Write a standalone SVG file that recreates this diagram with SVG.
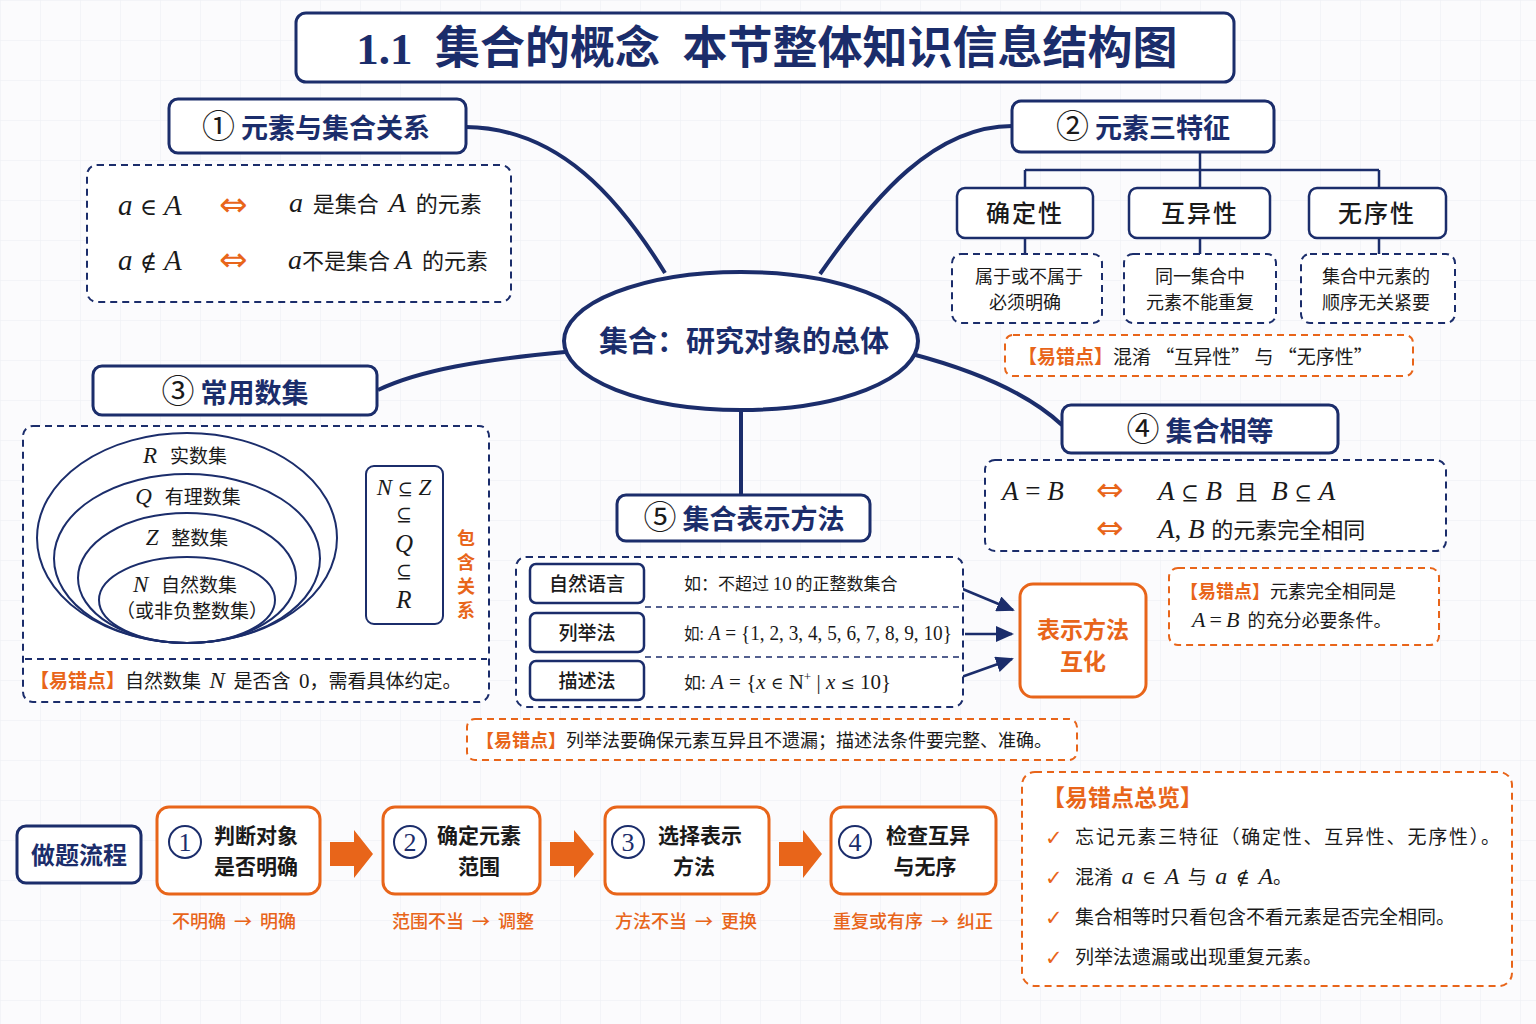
<svg xmlns="http://www.w3.org/2000/svg" width="1536" height="1024" viewBox="0 0 1536 1024">
<defs>
<pattern id="grid" width="40" height="40" patternUnits="userSpaceOnUse">
<path d="M40 0H0V40" fill="none" stroke="#eceef4" stroke-width="1"/>
</pattern>
<marker id="ah" markerWidth="10" markerHeight="10" refX="8" refY="5" orient="auto" markerUnits="userSpaceOnUse">
<path d="M0,0 L10,5 L0,10 Z" fill="#1b2d6b"/>
</marker>
<marker id="ahs" markerWidth="18" markerHeight="16" refX="16" refY="8" orient="auto" markerUnits="userSpaceOnUse">
<path d="M0,0 L18,8 L0,16 Z" fill="#1b2d6b"/>
</marker>
<marker id="aho" markerWidth="14" markerHeight="14" refX="7" refY="7" orient="auto" markerUnits="userSpaceOnUse">
<path d="M0,0 L14,7 L0,14 Z" fill="#e8651a"/>
</marker>
<style>
.nbox{fill:#fff;stroke:#1b2d6b;stroke-width:3}
.sbox{fill:#fff;stroke:#1b2d6b;stroke-width:2.5}
.dbox{fill:#fff;stroke:#1b2d6b;stroke-width:2;stroke-dasharray:7 5}
.obox{fill:#fff;stroke:#e8651a;stroke-width:2;stroke-dasharray:7 5}
.osolid{fill:#fff;stroke:#e8651a;stroke-width:3}
.conn{fill:none;stroke:#1b2d6b;stroke-width:4}
.thin{fill:none;stroke:#1b2d6b;stroke-width:2.5}
.ell{fill:none;stroke:#1b2d6b;stroke-width:2}
.h{font-family:"Noto Sans CJK SC","Noto Sans",sans-serif;font-weight:700;fill:#1b2d6b}
.t{font-family:"Liberation Serif","DejaVu Serif","Noto Sans CJK SC",serif;fill:#1a1a1a}
.cn{font-family:"Noto Sans CJK SC",sans-serif;fill:#1a1a1a}
.cnb{font-family:"Noto Sans CJK SC",sans-serif;font-weight:700;fill:#1a1a1a}
.o{fill:#e8651a}
.ob{font-family:"Noto Sans CJK SC",sans-serif;font-weight:700;fill:#e8651a}
.i{font-style:italic;font-family:"Liberation Serif",serif}
.sy{font-family:"DejaVu Serif",serif;font-style:normal}
.dq{font-family:"DejaVu Sans",sans-serif;fill:#e8651a}
.cnum{font-size:33px;font-weight:400}
</style>
</defs>
<rect width="1536" height="1024" fill="#fbfbfd"/>
<rect width="1536" height="1024" fill="url(#grid)"/>

<g id="connectors">
<path class="conn" d="M665,273 C620,200 560,128 466,127"/>
<path class="conn" d="M820,274 C875,195 935,126 1012,126"/>
<path class="conn" d="M565,352 C480,360 420,370 378,390"/>
<path class="conn" d="M912,354 C980,372 1030,395 1062,425"/>
<path class="conn" d="M741,411 V495"/>
<path class="thin" d="M1200,152 V170 M1025,170 H1379 M1025,170 V188 M1200,170 V188 M1379,170 V188"/>
<path class="thin" d="M1025,238 V254 M1200,238 V254 M1379,238 V254"/>
<path fill="none" stroke="#1b2d6b" stroke-width="2.5" marker-end="url(#ah)" d="M652,584 H680"/>
<path fill="none" stroke="#1b2d6b" stroke-width="2.5" marker-end="url(#ah)" d="M652,633 H680"/>
<path fill="none" stroke="#1b2d6b" stroke-width="2.5" marker-end="url(#ah)" d="M652,681 H680"/>
<path fill="none" stroke="#1b2d6b" stroke-width="2.5" marker-end="url(#ahs)" d="M953,585 L1013,610"/>
<path fill="none" stroke="#1b2d6b" stroke-width="2.5" marker-end="url(#ahs)" d="M965,634 H1012"/>
<path fill="none" stroke="#1b2d6b" stroke-width="2.5" marker-end="url(#ahs)" d="M953,680 L1012,659"/>
<path fill="none" stroke="#e8651a" stroke-width="2.5" marker-end="url(#aho)" d="M466,520 V473"/>
</g>

<g id="title">
<rect x="296" y="13" width="938" height="69" rx="10" class="nbox"/>
<text x="767" y="64" text-anchor="middle" font-family="Liberation Serif,'Noto Sans CJK SC',serif" font-weight="700" font-size="45" fill="#1b2d6b" xml:space="preserve">1.1  集合的概念  本节整体知识信息结构图</text>
</g>

<g id="center">
<ellipse cx="741" cy="341" rx="177" ry="69" fill="#fff" stroke="#1b2d6b" stroke-width="4"/>
<text x="744" y="352" text-anchor="middle" class="h" font-size="29">集合：研究对象的总体</text>
</g>

<g id="node1">
<rect x="169" y="99" width="297" height="54" rx="9" class="nbox"/>
<text x="316" y="138" text-anchor="middle" class="h" font-size="27" xml:space="preserve"><tspan class="cnum" fill="#1a1a1a">①</tspan> 元素与集合关系</text>
</g>
<g id="box1">
<rect x="87" y="165" width="424" height="137" rx="10" class="dbox"/>
<text x="118" y="215" class="t" font-size="29" xml:space="preserve"><tspan class="i">a</tspan> <tspan class="sy" font-size="23">∈</tspan> <tspan class="i">A</tspan></text>
<text x="219" y="216" class="dq" font-size="34">⇔</text>
<text x="289" y="212" class="cn" font-size="22" xml:space="preserve"><tspan class="i" font-size="28">a</tspan>  是集合  <tspan class="i" font-size="28">A</tspan>  的元素</text>
<text x="118" y="270" class="t" font-size="29" xml:space="preserve"><tspan class="i">a</tspan> <tspan class="sy" font-size="23">∉</tspan> <tspan class="i">A</tspan></text>
<text x="219" y="271" class="dq" font-size="34">⇔</text>
<text x="288" y="269" class="cn" font-size="22" xml:space="preserve"><tspan class="i" font-size="28">a</tspan>不是集合 <tspan class="i" font-size="28">A</tspan>  的元素</text>
</g>

<g id="node2">
<rect x="1012" y="101" width="262" height="51" rx="9" class="nbox"/>
<text x="1143" y="138" text-anchor="middle" class="h" font-size="27" xml:space="preserve"><tspan class="cnum" fill="#1a1a1a">②</tspan> 元素三特征</text>
</g>
<g id="feat1">
<rect x="957" y="188" width="136" height="50" rx="8" class="sbox"/>
<text x="1025" y="222" text-anchor="middle" class="cn" font-size="24" font-weight="500" letter-spacing="2">确定性</text>
<rect x="952" y="254" width="150" height="69" rx="9" class="dbox"/>
<text x="1029" y="283" text-anchor="middle" class="cn" font-size="18">属于或不属于</text>
<text x="1025" y="309" text-anchor="middle" class="cn" font-size="18">必须明确</text>
</g>
<g id="feat2">
<rect x="1129" y="188" width="141" height="50" rx="8" class="sbox"/>
<text x="1200" y="222" text-anchor="middle" class="cn" font-size="24" font-weight="500" letter-spacing="2">互异性</text>
<rect x="1124" y="254" width="152" height="69" rx="9" class="dbox"/>
<text x="1200" y="283" text-anchor="middle" class="cn" font-size="18">同一集合中</text>
<text x="1200" y="309" text-anchor="middle" class="cn" font-size="18">元素不能重复</text>
</g>
<g id="feat3">
<rect x="1309" y="188" width="137" height="50" rx="8" class="sbox"/>
<text x="1377" y="222" text-anchor="middle" class="cn" font-size="24" font-weight="500" letter-spacing="2">无序性</text>
<rect x="1301" y="254" width="154" height="69" rx="9" class="dbox"/>
<text x="1376" y="283" text-anchor="middle" class="cn" font-size="18">集合中元素的</text>
<text x="1376" y="309" text-anchor="middle" class="cn" font-size="18">顺序无关紧要</text>
</g>
<g id="err2">
<rect x="1005" y="335" width="408" height="41" rx="8" class="obox"/>
<text x="1018" y="364" class="cn" font-size="19"><tspan class="ob" font-weight="500">【易错点】</tspan>混淆 “互异性” 与 “无序性”</text>
</g>

<g id="node3">
<rect x="93" y="366" width="284" height="49" rx="9" class="nbox"/>
<text x="235" y="403" text-anchor="middle" class="h" font-size="27" xml:space="preserve"><tspan class="cnum" fill="#1a1a1a">③</tspan> 常用数集</text>
</g>
<g id="box3">
<rect x="23" y="426" width="466" height="276" rx="10" class="dbox"/>
<path d="M25,659 H487" stroke="#1b2d6b" stroke-width="2" stroke-dasharray="7 5"/>
<ellipse class="ell" cx="187" cy="538" rx="150" ry="105"/>
<ellipse class="ell" cx="187" cy="558.5" rx="133" ry="84.5"/>
<ellipse class="ell" cx="187" cy="578" rx="109" ry="65"/>
<ellipse class="ell" cx="187" cy="600" rx="88" ry="43"/>
<text x="185" y="463" text-anchor="middle" class="cn" font-size="19" xml:space="preserve"><tspan class="i" font-size="23">R</tspan>   实数集</text>
<text x="188" y="504" text-anchor="middle" class="cn" font-size="19" xml:space="preserve"><tspan class="i" font-size="23">Q</tspan>   有理数集</text>
<text x="187" y="545" text-anchor="middle" class="cn" font-size="19" xml:space="preserve"><tspan class="i" font-size="23">Z</tspan>   整数集</text>
<text x="185" y="592" text-anchor="middle" class="cn" font-size="19" xml:space="preserve"><tspan class="i" font-size="23">N</tspan>   自然数集</text>
<text x="192" y="618" text-anchor="middle" class="cn" font-size="19">（或非负整数集）</text>
<rect x="366" y="466" width="77" height="158" rx="8" fill="#fff" stroke="#1b2d6b" stroke-width="2"/>
<text x="404" y="495" text-anchor="middle" class="t" font-size="23" xml:space="preserve"><tspan class="i">N</tspan> <tspan class="sy" font-size="18">⊆</tspan> <tspan class="i">Z</tspan></text>
<text x="404" y="521" text-anchor="middle" class="sy" font-size="19" fill="#1a1a1a">⊆</text>
<text x="404" y="552" text-anchor="middle" class="t i" font-size="25">Q</text>
<text x="404" y="578" text-anchor="middle" class="sy" font-size="19" fill="#1a1a1a">⊆</text>
<text x="404" y="608" text-anchor="middle" class="t i" font-size="25">R</text>
<text class="ob" font-size="18" font-weight="500" text-anchor="middle"><tspan x="466" y="545">包</tspan><tspan x="466" y="569">含</tspan><tspan x="466" y="593">关</tspan><tspan x="466" y="617">系</tspan></text>
<text x="30" y="688" class="cn" font-size="19" xml:space="preserve"><tspan class="ob" font-weight="500">【易错点】</tspan>自然数集  <tspan class="i" font-size="23">N</tspan>  是否含  <tspan font-family="Liberation Serif" font-size="21">0</tspan>，需看具体约定。</text>
</g>

<g id="node4">
<rect x="1062" y="405" width="276" height="48" rx="9" class="nbox"/>
<text x="1200" y="441" text-anchor="middle" class="h" font-size="27" xml:space="preserve"><tspan class="cnum" fill="#1a1a1a">④</tspan> 集合相等</text>
</g>
<g id="box4">
<rect x="985" y="460" width="461" height="91" rx="10" class="dbox"/>
<text x="1002" y="500" class="t" font-size="27" xml:space="preserve"><tspan class="i">A</tspan> = <tspan class="i">B</tspan></text>
<text x="1096" y="501" class="dq" font-size="33">⇔</text>
<text x="1158" y="500" class="t" font-size="27" xml:space="preserve"><tspan class="i">A</tspan> <tspan class="sy" font-size="21">⊆</tspan> <tspan class="i">B</tspan>  <tspan font-family="Noto Sans CJK SC" font-size="22">且</tspan>  <tspan class="i">B</tspan> <tspan class="sy" font-size="21">⊆</tspan> <tspan class="i">A</tspan></text>
<text x="1096" y="539" class="dq" font-size="33">⇔</text>
<text x="1158" y="538" class="t" font-size="27" xml:space="preserve"><tspan class="i">A</tspan>, <tspan class="i">B</tspan> <tspan font-family="Noto Sans CJK SC" font-size="22">的元素完全相同</tspan></text>
</g>
<g id="err4">
<rect x="1169" y="568" width="270" height="77" rx="9" class="obox"/>
<text x="1180" y="598" class="cn" font-size="18"><tspan class="ob" font-weight="500">【易错点】</tspan>元素完全相同是</text>
<text x="1192" y="627" class="cn" font-size="18" xml:space="preserve"><tspan class="i" font-size="22">A</tspan> <tspan font-family="Liberation Serif" font-size="22">=</tspan> <tspan class="i" font-size="22">B</tspan>  的充分必要条件。</text>
</g>

<g id="node5">
<rect x="617" y="495" width="253" height="46" rx="9" class="nbox"/>
<text x="744" y="529" text-anchor="middle" class="h" font-size="27" xml:space="preserve"><tspan class="cnum" fill="#1a1a1a">⑤</tspan> 集合表示方法</text>
</g>
<g id="box5">
<rect x="516" y="557" width="447" height="150" rx="10" class="dbox"/>
<path d="M645,607 H963 M645,657 H963" stroke="#1b2d6b" stroke-width="1.5" stroke-dasharray="6 5"/>
<rect x="530" y="564" width="114" height="39" rx="6" class="sbox" stroke-width="2"/>
<text x="587" y="591" text-anchor="middle" class="cn" font-size="19" font-weight="500">自然语言</text>
<rect x="530" y="613" width="114" height="39" rx="6" class="sbox" stroke-width="2"/>
<text x="587" y="640" text-anchor="middle" class="cn" font-size="19" font-weight="500">列举法</text>
<rect x="530" y="661" width="114" height="39" rx="6" class="sbox" stroke-width="2"/>
<text x="587" y="688" text-anchor="middle" class="cn" font-size="19" font-weight="500">描述法</text>
<text x="684" y="590" class="cn" font-size="17">如：不超过 <tspan font-family="Liberation Serif" font-size="19">10</tspan> 的正整数集合</text>
<text x="684" y="640" class="t" font-size="21" textLength="268" lengthAdjust="spacingAndGlyphs"><tspan font-family="Noto Sans CJK SC" font-size="17">如:</tspan> <tspan class="i">A</tspan> = {1, 2, 3, 4, 5, 6, 7, 8, 9, 10}</text>
<text x="684" y="689" class="t" font-size="21" xml:space="preserve"><tspan font-family="Noto Sans CJK SC" font-size="17">如:</tspan> <tspan class="i">A</tspan> = {<tspan class="i">x</tspan> <tspan class="sy" font-size="17">∈</tspan> N<tspan font-size="13" dy="-8">+</tspan><tspan dy="8"> | </tspan><tspan class="i">x</tspan> <tspan class="sy" font-size="17">≤</tspan> 10}</text>
</g>
<g id="convert">
<rect x="1020" y="584" width="126" height="113" rx="13" class="osolid"/>
<text x="1083" y="638" text-anchor="middle" class="ob" font-size="23">表示方法</text>
<text x="1083" y="670" text-anchor="middle" class="ob" font-size="23">互化</text>
</g>
<g id="err5">
<rect x="467" y="719" width="610" height="41" rx="8" class="obox"/>
<text x="476" y="747" class="cn" font-size="18"><tspan class="ob" font-weight="500">【易错点】</tspan>列举法要确保元素互异且不遗漏；描述法条件要完整、准确。</text>
</g>

<g id="flow-label">
<rect x="17" y="826" width="124" height="57" rx="9" class="nbox"/>
<text x="79" y="864" text-anchor="middle" class="h" font-size="24">做题流程</text>
</g>
<g id="step1">
<rect x="157" y="807" width="163" height="87" rx="12" class="osolid"/>
<circle cx="185" cy="842" r="16" fill="#fff" stroke="#1b2d6b" stroke-width="2"/>
<text x="185" y="851" text-anchor="middle" font-family="Liberation Serif,serif" font-size="26" fill="#1b2d6b">1</text>
<text x="256" y="843" text-anchor="middle" class="cnb" font-size="21">判断对象</text>
<text x="256" y="874" text-anchor="middle" class="cnb" font-size="21">是否明确</text>
<text x="234" y="928" text-anchor="middle" class="cn o" font-size="18" font-weight="500" xml:space="preserve">不明确  →  明确</text>
</g>
<g id="step2">
<rect x="383" y="807" width="157" height="87" rx="12" class="osolid"/>
<circle cx="410" cy="842" r="16" fill="#fff" stroke="#1b2d6b" stroke-width="2"/>
<text x="410" y="851" text-anchor="middle" font-family="Liberation Serif,serif" font-size="26" fill="#1b2d6b">2</text>
<text x="479" y="843" text-anchor="middle" class="cnb" font-size="21">确定元素</text>
<text x="479" y="874" text-anchor="middle" class="cnb" font-size="21">范围</text>
<text x="463" y="928" text-anchor="middle" class="cn o" font-size="18" font-weight="500" xml:space="preserve">范围不当  →  调整</text>
</g>
<g id="step3">
<rect x="605" y="807" width="164" height="87" rx="12" class="osolid"/>
<circle cx="628" cy="842" r="16" fill="#fff" stroke="#1b2d6b" stroke-width="2"/>
<text x="628" y="851" text-anchor="middle" font-family="Liberation Serif,serif" font-size="26" fill="#1b2d6b">3</text>
<text x="700" y="843" text-anchor="middle" class="cnb" font-size="21">选择表示</text>
<text x="694" y="874" text-anchor="middle" class="cnb" font-size="21">方法</text>
<text x="686" y="928" text-anchor="middle" class="cn o" font-size="18" font-weight="500" xml:space="preserve">方法不当  →  更换</text>
</g>
<g id="step4">
<rect x="831" y="807" width="165" height="87" rx="12" class="osolid"/>
<circle cx="855" cy="842" r="16" fill="#fff" stroke="#1b2d6b" stroke-width="2"/>
<text x="855" y="851" text-anchor="middle" font-family="Liberation Serif,serif" font-size="26" fill="#1b2d6b">4</text>
<text x="928" y="843" text-anchor="middle" class="cnb" font-size="21">检查互异</text>
<text x="925" y="874" text-anchor="middle" class="cnb" font-size="21">与无序</text>
<text x="913" y="928" text-anchor="middle" class="cn o" font-size="18" font-weight="500" xml:space="preserve">重复或有序  →  纠正</text>
</g>
<g id="flow-arrows" fill="#e8651a">
<polygon points="330,842 354,842 354,830 373,854 354,878 354,866 330,866"/>
<polygon points="550,842 574,842 574,830 594,854 574,878 574,866 550,866"/>
<polygon points="779,842 803,842 803,830 822,854 803,878 803,866 779,866"/>
</g>

<g id="summary">
<rect x="1022" y="772" width="490" height="214" rx="13" class="obox"/>
<text x="1042" y="806" class="ob" font-size="23" font-weight="500">【易错点总览】</text>
<g font-family="DejaVu Sans,sans-serif" font-size="21" fill="#e8651a" font-weight="700">
<text x="1045" y="845">✓</text>
<text x="1045" y="885">✓</text>
<text x="1045" y="925">✓</text>
<text x="1045" y="965">✓</text>
</g>
<text x="1075" y="844" class="cn" font-size="19" textLength="425" lengthAdjust="spacing">忘记元素三特征（确定性、互异性、无序性）。</text>
<text x="1075" y="884" class="cn" font-size="19" xml:space="preserve">混淆  <tspan class="i" font-size="24">a</tspan>  <tspan class="sy" font-size="19">∈</tspan>  <tspan class="i" font-size="24">A</tspan>  与  <tspan class="i" font-size="24">a</tspan>  <tspan class="sy" font-size="19">∉</tspan>  <tspan class="i" font-size="24">A</tspan>。</text>
<text x="1075" y="924" class="cn" font-size="19">集合相等时只看包含不看元素是否完全相同。</text>
<text x="1075" y="964" class="cn" font-size="19">列举法遗漏或出现重复元素。</text>
</g>
</svg>
